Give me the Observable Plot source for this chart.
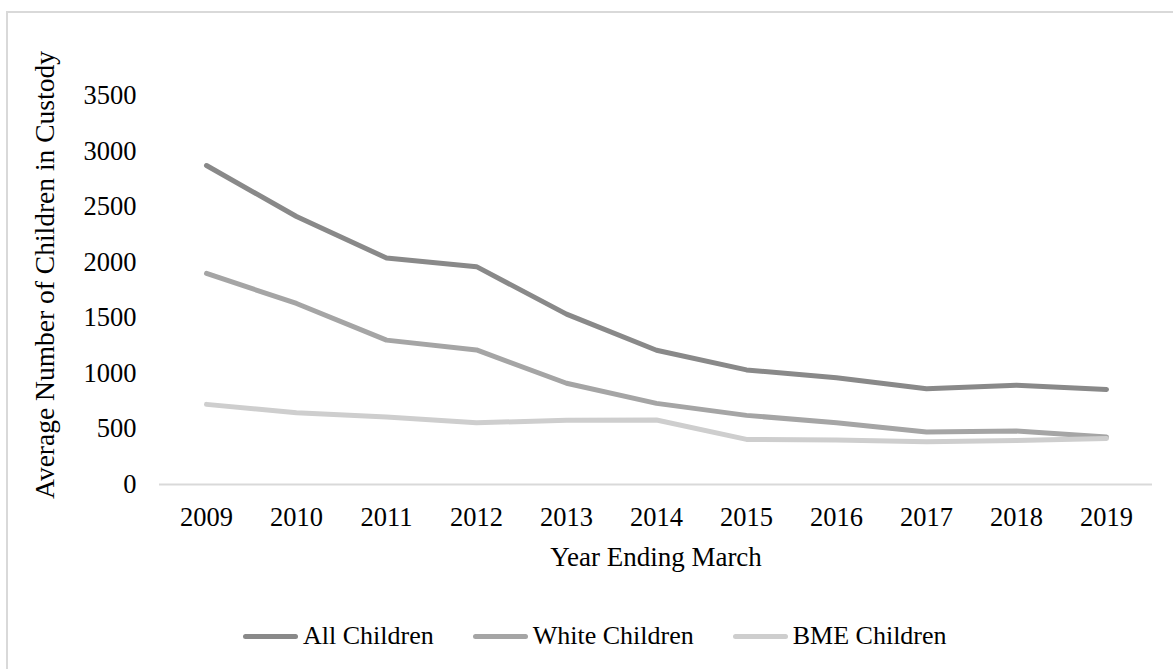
<!DOCTYPE html>
<html>
<head>
<meta charset="utf-8">
<script src="https://cdn.jsdelivr.net/npm/d3@7"></script>
<script src="https://cdn.jsdelivr.net/npm/@observablehq/plot@0.6"></script>
<style>
  html, body { margin: 0; padding: 0; background: #fff; overflow: hidden; }
  body { width: 1173px; height: 669px; position: relative; font-family: "Liberation Serif", "Times New Roman", serif; }
  #frame { position: absolute; left: 6px; top: 11px; width: 1300px; height: 800px; border-left: 2px solid #d9d9d9; border-top: 2px solid #d9d9d9; pointer-events: none; z-index: 2; }
  #chart svg { display: block; }
  #legend { display: flex; align-items: center; height: 32px; margin-left: 243px; font-size: 26px; color: #000; }
  .item { display: flex; align-items: center; margin-right: 39px; }
  .sw { width: 55px; height: 5px; border-radius: 3px; margin-right: 5px; }
</style>
</head>
<body>
<div id="frame"></div>
<div id="chart"></div>
<div id="legend"></div>
<script>
const years = ["2009","2010","2011","2012","2013","2014","2015","2016","2017","2018","2019"];
const allChildren = [2870, 2411, 2038, 1960, 1533, 1208, 1031, 961, 862, 893, 855];
const whiteChildren = [1899, 1629, 1299, 1211, 911, 730, 622, 556, 472, 481, 427];
const bmeChildren = [721, 646, 607, 556, 577, 580, 406, 400, 384, 397, 415];
const seriesNames = ["All Children", "White Children", "BME Children"];
const seriesColors = ["#898989", "#a5a5a5", "#cecece"];
const yTicks = [0, 500, 1000, 1500, 2000, 2500, 3000, 3500];
const xTitle = "Year Ending March";
const yTitle = "Average Number of Children in Custody";

const seriesValues = [allChildren, whiteChildren, bmeChildren];
const rows = seriesValues.map((vals, i) => years.map((y, j) => ({year: y, value: vals[j], series: seriesNames[i]})));

const lineMarks = rows.map((r, i) => Plot.line(r, {
  x: "year", y: "value", stroke: seriesColors[i], strokeWidth: 5,
  strokeLinecap: "round", strokeLinejoin: "round"
}));

const chart = Plot.plot({
  width: 1173,
  height: 620,
  marginLeft: 159,
  marginRight: 21,
  marginTop: 95,
  marginBottom: 136,
  style: {fontFamily: "'Liberation Serif', 'Times New Roman', serif", fontSize: "26.5px", background: "transparent", color: "#000"},
  x: {type: "point", domain: years, padding: 0.5},
  y: {domain: [0, 3500]},
  marks: [
    Plot.ruleY([0], {stroke: "#d9d9d9", strokeWidth: 2}),
    Plot.axisX({tickSize: 0, tickPadding: 23, label: null}),
    Plot.axisY({ticks: yTicks, tickSize: 0, tickPadding: 23, label: null, tickFormat: d3.format("d")}),
    Plot.text([xTitle], {frameAnchor: "bottom", text: d => d, lineAnchor: "top", dy: 62, fontSize: 27, fill: "#000"}),
    Plot.text([yTitle], {frameAnchor: "left", text: d => d, rotate: -90, textAnchor: "middle", lineAnchor: "top", dx: -125, dy: -15, fontSize: 27.5, fill: "#000"}),
    ...lineMarks
  ]
});
document.getElementById("chart").appendChild(chart);

const legend = document.getElementById("legend");
seriesNames.forEach((name, i) => {
  const item = document.createElement("div");
  item.className = "item";
  const sw = document.createElement("div");
  sw.className = "sw";
  sw.style.background = seriesColors[i];
  const label = document.createElement("span");
  label.textContent = name;
  item.appendChild(sw);
  item.appendChild(label);
  legend.appendChild(item);
});
</script>
</body>
</html>
